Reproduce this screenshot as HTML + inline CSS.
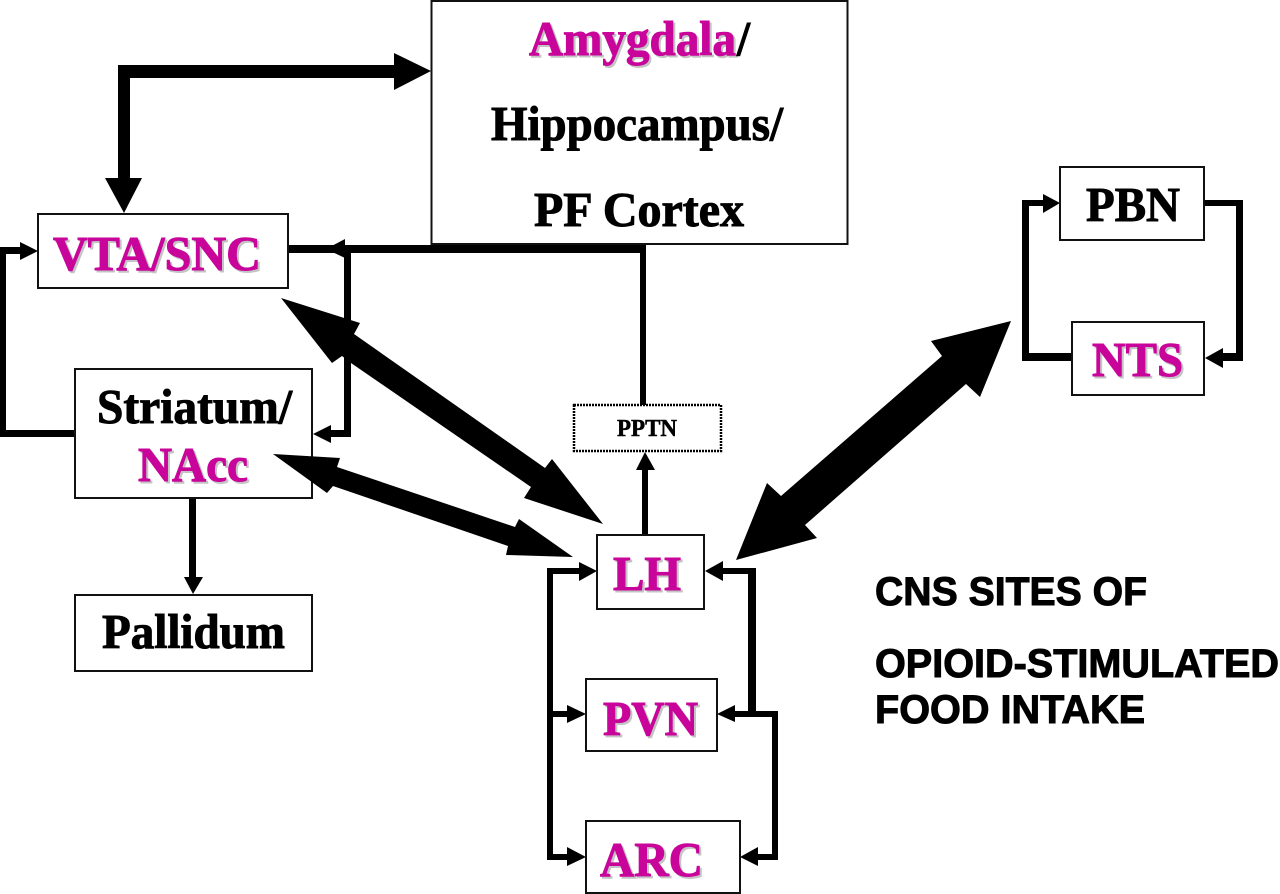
<!DOCTYPE html>
<html><head><meta charset="utf-8"><style>
html,body{margin:0;padding:0;background:#fff;width:1280px;height:894px;overflow:hidden}
svg{display:block}
.s{font-family:"Liberation Serif",serif;font-weight:bold}
.a{font-family:"Liberation Sans",sans-serif;font-weight:bold;fill:#000;stroke:#000;stroke-width:1}
.b{fill:#fff;stroke:#111;stroke-width:2}
</style></head><body>
<svg width="1280" height="894" viewBox="0 0 1280 894" xmlns="http://www.w3.org/2000/svg">
<rect width="1280" height="894" fill="#fff"/>
<g fill="#000">
<!-- top thick arrow -->
<path d="M118 65H394V53L431 71 394 90V78H130V178H142L124 213 105 178H118Z"/>
<!-- VTA left loop -->
<rect x="0" y="430" width="75" height="7"/><rect x="0" y="247" width="6" height="190"/><rect x="0" y="247" width="22" height="7"/>
<path d="M20 242L38 251 20 260Z"/>
<!-- cortex to VTA -->
<rect x="288" y="245" width="358" height="8"/><rect x="640" y="245" width="6" height="160"/>
<path d="M345 239V258L326 249Z"/>
<!-- right side to striatum -->
<rect x="344" y="250" width="7" height="187"/><rect x="328" y="430" width="23" height="7"/>
<path d="M331 425V443L313 434Z"/>
<!-- striatum to pallidum -->
<rect x="189" y="498" width="7" height="80"/><path d="M184 577H203L193 594Z"/>
<!-- LH to PPTN -->
<rect x="642" y="468" width="6" height="67"/><path d="M636 470L645 452 655 470Z"/>
<!-- left bracket -->
<rect x="547" y="568" width="6" height="292"/><rect x="547" y="568" width="34" height="6"/><rect x="547" y="711" width="22" height="6"/><rect x="547" y="854" width="22" height="6"/>
<path d="M579 562L597 571 579 581Z"/><path d="M567 705L586 714 567 723Z"/><path d="M567 847L586 857 567 866Z"/>
<!-- right bracket -->
<rect x="721" y="568" width="35" height="6"/><rect x="748" y="568" width="8" height="149"/><rect x="733" y="711" width="45" height="6"/><rect x="772" y="711" width="6" height="149"/><rect x="756" y="854" width="22" height="6"/>
<path d="M723 561V581L705 571Z"/><path d="M735 705V722L717 714Z"/><path d="M758 847V866L740 857Z"/>
<!-- PBN / NTS loop -->
<rect x="1022" y="200" width="7" height="161"/><rect x="1022" y="200" width="24" height="6"/><rect x="1022" y="353" width="50" height="8"/>
<path d="M1043 194L1060 203 1043 213Z"/>
<rect x="1204" y="200" width="39" height="6"/><rect x="1236" y="200" width="7" height="161"/><rect x="1221" y="353" width="22" height="8"/>
<path d="M1223 348V368L1205 358Z"/>
</g>
<!-- boxes -->
<rect class="b" x="431.500" y="1" width="416" height="243"/>
<rect class="b" x="38" y="214" width="250" height="74"/>
<rect class="b" x="75" y="369" width="237" height="129"/>
<rect class="b" x="75" y="595" width="237" height="76"/>
<rect x="574" y="405" width="147" height="46" fill="#fff" stroke="#000" stroke-width="2.500" stroke-dasharray="2 1"/>
<rect class="b" x="597" y="535" width="107" height="74"/>
<rect class="b" x="586" y="679" width="131" height="72"/>
<rect class="b" x="586" y="821" width="154" height="72"/>
<rect class="b" x="1060" y="167" width="144" height="73"/>
<rect class="b" x="1072" y="322" width="132" height="73"/>
<!-- big double arrows on top of boxes -->
<g fill="#000">
<path d="M281 298L360 323 354 334 545 468 552 459 603 524 524 498 531 487 351 363 342 356 332 363Z"/>
<path d="M273 454L340 458 337 467 515 527 519 519 573 557 506 555 508 546 333 486 327 493Z"/>
<path d="M1011 321L980 397 966 384 805 525 817 538 736 560 767 483 781 496 942 356 931 341Z"/>
</g>
<!-- shadows -->
<g class="s" fill="#c4c4c4" stroke="#c4c4c4" stroke-width="1" font-size="49">
<text x="531" y="57" textLength="207" lengthAdjust="spacingAndGlyphs">Amygdala</text>
<text x="55" y="272" textLength="208" lengthAdjust="spacingAndGlyphs">VTA/SNC</text>
<text x="140" y="483" textLength="110" lengthAdjust="spacingAndGlyphs">NAcc</text>
<text x="615" y="592" textLength="68" lengthAdjust="spacingAndGlyphs">LH</text>
<text x="605" y="737" textLength="95" lengthAdjust="spacingAndGlyphs">PVN</text>
<text x="602" y="878" textLength="103" lengthAdjust="spacingAndGlyphs">ARC</text>
<text x="1094" y="378" textLength="91" lengthAdjust="spacingAndGlyphs">NTS</text>
</g>
<!-- magenta -->
<g class="s" fill="#c8049a" stroke="#c8049a" stroke-width="1" font-size="49">
<text x="529" y="55" textLength="207" lengthAdjust="spacingAndGlyphs">Amygdala</text>
<text x="53" y="270" textLength="208" lengthAdjust="spacingAndGlyphs">VTA/SNC</text>
<text x="138" y="481" textLength="110" lengthAdjust="spacingAndGlyphs">NAcc</text>
<text x="613" y="590" textLength="68" lengthAdjust="spacingAndGlyphs">LH</text>
<text x="603" y="735" textLength="95" lengthAdjust="spacingAndGlyphs">PVN</text>
<text x="600" y="876" textLength="103" lengthAdjust="spacingAndGlyphs">ARC</text>
<text x="1092" y="376" textLength="91" lengthAdjust="spacingAndGlyphs">NTS</text>
</g>
<!-- black -->
<g class="s" fill="#000" stroke="#000" stroke-width="1" font-size="49">
<text x="737" y="55" textLength="13" lengthAdjust="spacingAndGlyphs">/</text>
<text x="491" y="140" textLength="292" lengthAdjust="spacingAndGlyphs">Hippocampus/</text>
<text x="534" y="226" textLength="210" lengthAdjust="spacingAndGlyphs">PF Cortex</text>
<text x="97" y="423" textLength="195" lengthAdjust="spacingAndGlyphs">Striatum/</text>
<text x="102" y="648" textLength="183" lengthAdjust="spacingAndGlyphs">Pallidum</text>
<text x="1086" y="221" textLength="94" lengthAdjust="spacingAndGlyphs">PBN</text>
<text x="617" y="436" font-size="24" stroke-width=".5" textLength="60" lengthAdjust="spacingAndGlyphs">PPTN</text>
</g>
<!-- side caption -->
<g class="a" font-size="40">
<text x="875" y="605" textLength="272" lengthAdjust="spacingAndGlyphs">CNS SITES OF</text>
<text x="875" y="677" textLength="404" lengthAdjust="spacingAndGlyphs">OPIOID-STIMULATED</text>
<text x="875" y="723" textLength="270" lengthAdjust="spacingAndGlyphs">FOOD INTAKE</text>
</g>
</svg>
</body></html>
